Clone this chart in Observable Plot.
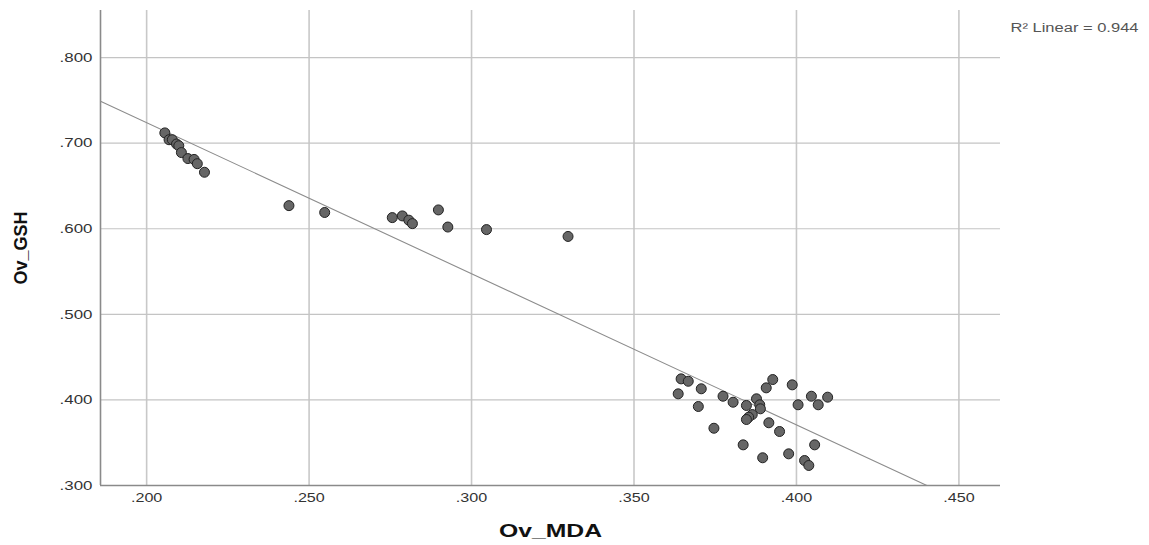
<!DOCTYPE html>
<html>
<head>
<meta charset="utf-8">
<script src="https://cdn.jsdelivr.net/npm/d3@7"></script>
<script src="https://cdn.jsdelivr.net/npm/@observablehq/plot@0.6"></script>
<style>
  html, body { margin: 0; padding: 0; background: #fff; }
  #chart svg { display: block; }
  [aria-label="x-axis label"] text, [aria-label="y-axis label"] text { font-weight: bold; font-size: 18px; fill: #111; }
</style>
</head>
<body>
<div id="chart"></div>
<script>
const ovMDA = [
  0.2056, 0.2069, 0.2079, 0.2092, 0.2099, 0.2107, 0.2127, 0.2146, 0.2156, 0.2178,
  0.2438, 0.2548, 0.2756, 0.2787, 0.2807, 0.2818, 0.2898, 0.2927, 0.3046, 0.3297,
  0.3645, 0.3667, 0.3707, 0.3636, 0.3774, 0.3805, 0.3698, 0.3846, 0.3877, 0.3887,
  0.3889, 0.3864, 0.3853, 0.3846, 0.3927, 0.3907, 0.3987, 0.4046, 0.4096, 0.4005,
  0.4067, 0.3915, 0.3948, 0.3746, 0.3836, 0.4056, 0.3976, 0.3896, 0.4025, 0.4038
];
const ovGSH = [
  0.712, 0.704, 0.704, 0.699, 0.697, 0.689, 0.682, 0.681, 0.676, 0.666,
  0.627, 0.619, 0.613, 0.615, 0.610, 0.606, 0.622, 0.602, 0.599, 0.591,
  0.4246, 0.4218, 0.4130, 0.4071, 0.4043, 0.3973, 0.3923, 0.3935, 0.4013, 0.3943,
  0.3896, 0.3829, 0.3798, 0.3771, 0.4238, 0.4141, 0.4176, 0.4043, 0.4032, 0.3943,
  0.3943, 0.3733, 0.3631, 0.3669, 0.3475, 0.3475, 0.3370, 0.3324, 0.3292, 0.3234
];
const xTicks = [0.200, 0.250, 0.300, 0.350, 0.400, 0.450];
const yTicks = [0.300, 0.400, 0.500, 0.600, 0.700, 0.800];
const xDomain = [0.1858, 0.4628];
const yDomain = [0.300, 0.855];
const r2Label = "R\u00B2 Linear = 0.944";
const xLabel = "Ov_MDA";
const yLabel = "Ov_GSH";

const data = ovMDA.map((x, i) => ({x, y: ovGSH[i]}));

// least-squares fit
const mx = d3.mean(ovMDA), my = d3.mean(ovGSH);
const sxy = d3.sum(data, d => (d.x - mx) * (d.y - my));
const sxx = d3.sum(data, d => (d.x - mx) ** 2);
const slope = sxy / sxx, intercept = my - slope * mx;
const fit = xDomain.map(x => ({x, y: intercept + slope * x}));

const fmt = d => d3.format(".3f")(d).replace(/^0/, "");

const chart = Plot.plot({
  width: 1149,
  height: 545,
  marginLeft: 100,
  marginRight: 149,
  marginTop: 10,
  marginBottom: 60,
  style: { fontFamily: "Liberation Sans, Arial, sans-serif", fontSize: "13px", color: "#222" },
  x: { domain: xDomain },
  y: { domain: yDomain },
  marks: [
    Plot.ruleX(xTicks, { stroke: "#c8c8c8", strokeWidth: 1.6 }),
    Plot.ruleY(yTicks.filter(t => t > yDomain[0]), { stroke: "#c4c4c4", strokeWidth: 1.2 }),
    Plot.ruleX([xDomain[0]], { stroke: "#8a8a8a", strokeWidth: 1.6 }),
    Plot.ruleY([yDomain[0]], { stroke: "#8a8a8a", strokeWidth: 1.6 }),
    Plot.line(fit, { x: "x", y: "y", stroke: "#8c8c8c", strokeWidth: 1.1, clip: true }),
    Plot.dot(data, { x: "x", y: "y", r: 5, fill: "#666", stroke: "#222", strokeWidth: 1, fillOpacity: 1 }),
    Plot.axisX(xTicks, { tickSize: 0, tickPadding: 7, tickFormat: fmt, label: xLabel, labelAnchor: "center", labelArrow: "none", labelOffset: 51, fill: "#333" }),
    Plot.axisY(yTicks, { tickSize: 0, tickPadding: 8, tickFormat: fmt, label: yLabel, labelAnchor: "center", labelArrow: "none", labelOffset: 86, fill: "#333" }),
    Plot.text([r2Label], { frameAnchor: "top-right", textAnchor: "start", dx: 10, dy: 13, fontSize: 12, fill: "#555" })
  ]
});
document.getElementById("chart").appendChild(chart);

// the reference is horizontally stretched: widen horizontal text
function stretch(selector, factor, fixed) {
  chart.querySelectorAll(selector).forEach(t => {
    const len = t.getComputedTextLength();
    t.setAttribute("textLength", fixed ? fixed : len * factor);
    t.setAttribute("lengthAdjust", "spacingAndGlyphs");
  });
}
stretch('[aria-label="x-axis tick label"] text', 1.24);
stretch('[aria-label="y-axis tick label"] text', 1.3);
stretch('[aria-label="x-axis label"] text', 1, 103);
stretch('[aria-label="text"] text', 1, 128);
</script>
</body>
</html>
